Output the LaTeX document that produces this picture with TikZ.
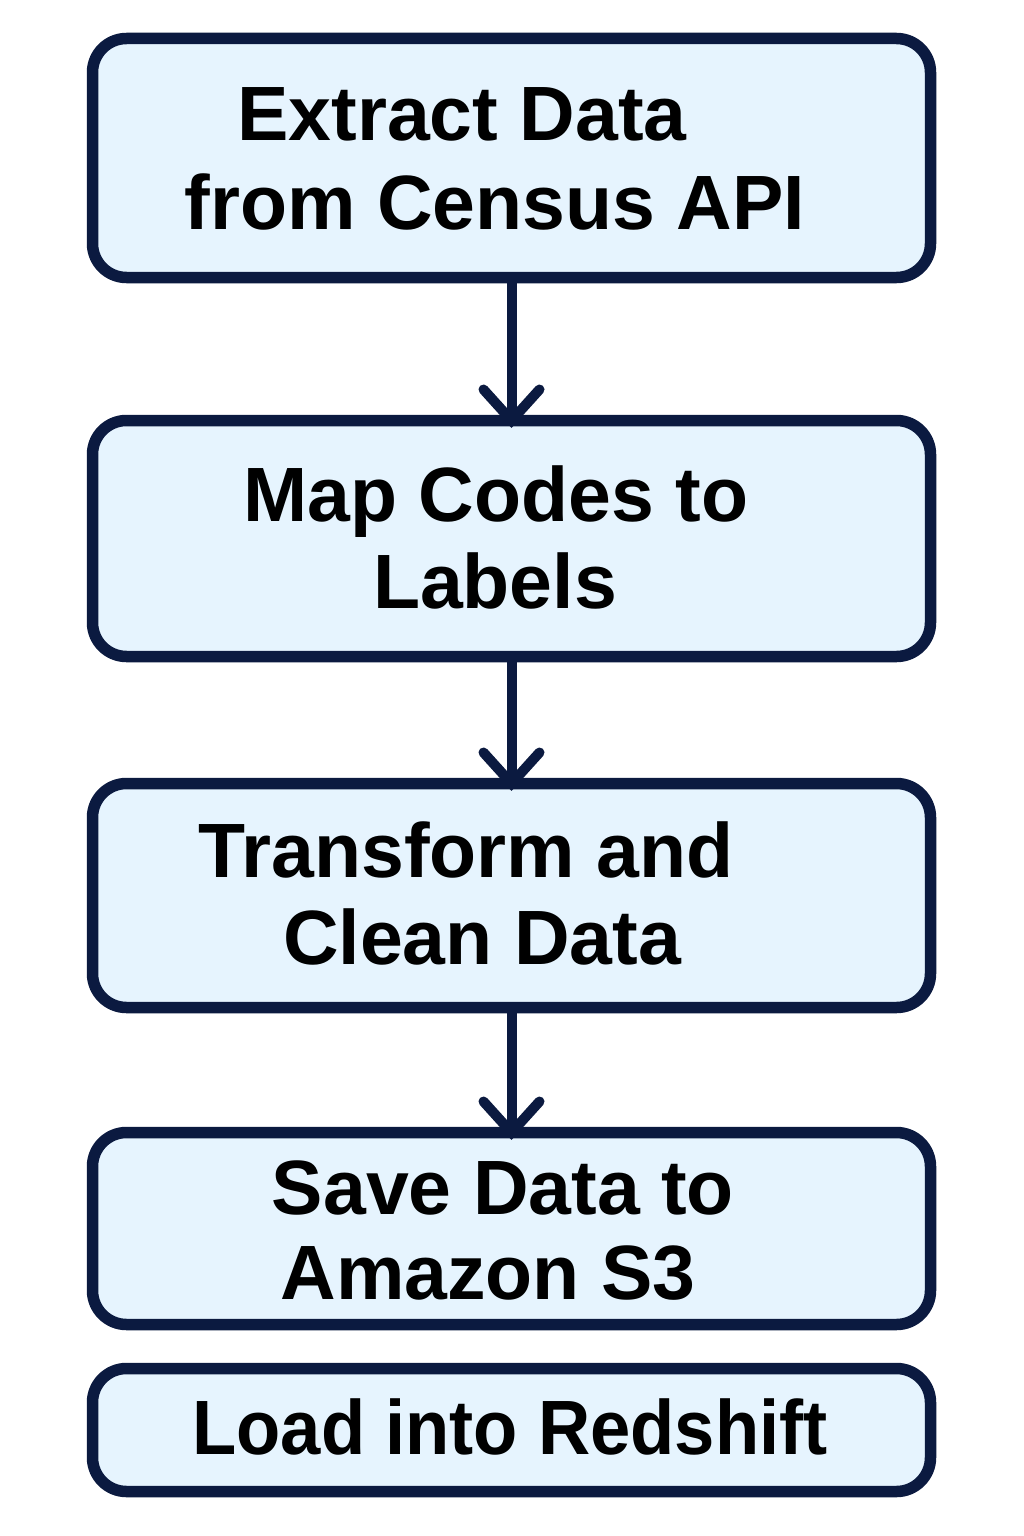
\documentclass[tikz,border=0pt]{standalone}
\usepackage{fontspec}
\setmainfont{Liberation Sans}
\usetikzlibrary{calc}
\definecolor{boxfill}{HTML}{E6F4FE}
\definecolor{navy}{HTML}{0B1A40}
\tikzset{
  stepbox/.style={draw=navy, fill=boxfill, line width=11.5pt, rounded corners=34pt, outer sep=0pt, inner sep=0pt},
  lbl/.style={anchor=base, inner sep=0pt, font=\fontsize{77}{90}\selectfont\bfseries, text=black},
  conn/.style={draw=navy, line width=10pt},
  chev/.style={draw=navy, line width=10pt, line cap=round, line join=miter},
}
\begin{document}
\begin{tikzpicture}[x=1pt,y=-1pt]
\useasboundingbox[fill=white] (0,0) rectangle (1024,1536);
% boxes (border centerlines)
\node[stepbox, minimum width=838pt, minimum height=239pt] (b1) at (511.5,158) {};
\node[stepbox, minimum width=838pt, minimum height=236pt] (b2) at (511.5,538.5) {};
\node[stepbox, minimum width=838pt, minimum height=224pt] (b3) at (511.5,895.5) {};
\node[stepbox, minimum width=838pt, minimum height=192pt] (b4) at (511.5,1228.5) {};
\node[stepbox, minimum width=838pt, minimum height=123pt] (b5) at (511.5,1430) {};
% labels
\node[lbl] (t1a) at (462,140) {Extract Data};
\node[lbl] (t1b) at (495,229) {from Census API};
\node[lbl] (t2a) at (496,521) {Map Codes to};
\node[lbl] (t2b) at (495,608) {Labels};
\node[lbl] (t3a) at (466,877) {Transform and};
\node[lbl] (t3b) at (482,964) {Clean Data};
\node[lbl] (t4a) at (503,1214) {Save Data to};
\node[lbl] (t4b) at (488,1299) {Amazon S3};
\node[lbl, font=\fontsize{77}{90}\selectfont\bfseries\addfontfeature{FakeStretch=0.94}] (t5) at (510,1454) {Load into Redshift};
% connectors
\draw[conn] (b1.south) -- (b2.north);
\draw[chev] ($(b2.north)+(-28,-31)$) -- (b2.north) -- ++(28,-31);
\draw[conn] (b2.south) -- (b3.north);
\draw[chev] ($(b3.north)+(-28,-31)$) -- (b3.north) -- ++(28,-31);
\draw[conn] (b3.south) -- (b4.north);
\draw[chev] ($(b4.north)+(-28,-31)$) -- (b4.north) -- ++(28,-31);
\end{tikzpicture}
\end{document}
